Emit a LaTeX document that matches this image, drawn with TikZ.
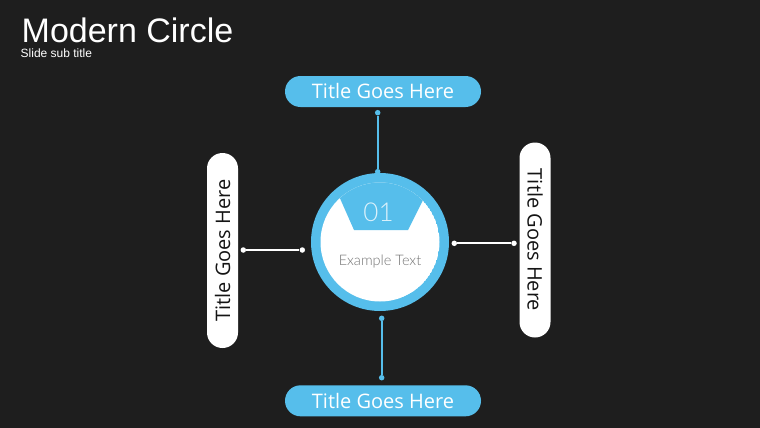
\documentclass[tikz,border=0pt]{standalone}
\usepackage{fontspec}
\setmainfont{Open Sans}
\newfontfamily\arialf{Liberation Sans}
\newfontfamily\numf{Lato Light}
\definecolor{bg}{HTML}{1E1E1E}
\definecolor{sky}{HTML}{56BEEB}
\definecolor{ink}{HTML}{141414}
\tikzset{
  pill/.style={rectangle, rounded corners=15.5pt, inner sep=0pt, font=\fontsize{20}{24}\selectfont},
  hpill/.style={pill, fill=sky, text=white, minimum width=196pt, minimum height=31pt},
  vpill/.style={pill, fill=white, text=ink, minimum width=195pt, minimum height=31pt},
  dotn/.style={circle, inner sep=0pt, minimum size=5.5pt},
  bluelink/.style={draw=sky, line width=1.8pt},
  whitelink/.style={draw=white, line width=1.8pt},
}
\begin{document}
\begin{tikzpicture}[x=1pt,y=-1pt]
\fill[bg] (0,0) rectangle (760,428);
\useasboundingbox (0,0) rectangle (760,428);
% titles
\node[anchor=base west, inner sep=0pt, text=white, font=\arialf\fontsize{34}{40}\selectfont] (title) at (21.5,42.2) {Modern Circle};
\node[anchor=base west, inner sep=0pt, text=white, font=\arialf\fontsize{12}{14}\selectfont] (sub) at (20.5,57.5) {Slide sub title};
% central circle
\node[circle, fill=sky, minimum size=138pt, inner sep=0pt] (c) at (380,242) {};
\begin{scope}
  \clip (380,242) circle (59.5pt);
  \fill[white] (380,242) circle (59.5pt);
  \fill[sky] (331,178) -- (354,230) -- (408,230) -- (434,178) -- cycle;
\end{scope}
\node[inner sep=0pt, text=white!80!sky, font=\numf\fontsize{26}{30}\selectfont] (num) at (378.5,212.5) {01};
\node[inner sep=0pt, text=black!55, font=\numf\fontsize{14.5}{16}\selectfont] (ex) at (380,261.5) {Example Text};
% pills
\node[hpill] (top) at (383,91.5) {Title Goes Here};
\node[hpill] (bot) at (383,400.8) {Title Goes Here};
\node[vpill, rotate=90] (left) at (222.5,250.5) {Title Goes Here};
\node[vpill, rotate=-90] (right) at (535,240) {Title Goes Here};
% connectors
\node[dotn, fill=sky] (t1) at (377.7,112.7) {};
\node[dotn, fill=sky] (t2) at (377.7,171.7) {};
\draw[bluelink] (t1) -- (t2);
\node[dotn, fill=sky] (b1) at (381.7,318.3) {};
\node[dotn, fill=sky] (b2) at (381.7,377.7) {};
\draw[bluelink] (b1) -- (b2);
\node[dotn, fill=white] (l1) at (243.3,250) {};
\node[dotn, fill=white] (l2) at (302.3,250) {};
\draw[whitelink] (l1) -- (l2);
\node[dotn, fill=white] (r1) at (454.3,243.3) {};
\node[dotn, fill=white] (r2) at (514,243.3) {};
\draw[whitelink] (r1) -- (r2);
\end{tikzpicture}
\end{document}
